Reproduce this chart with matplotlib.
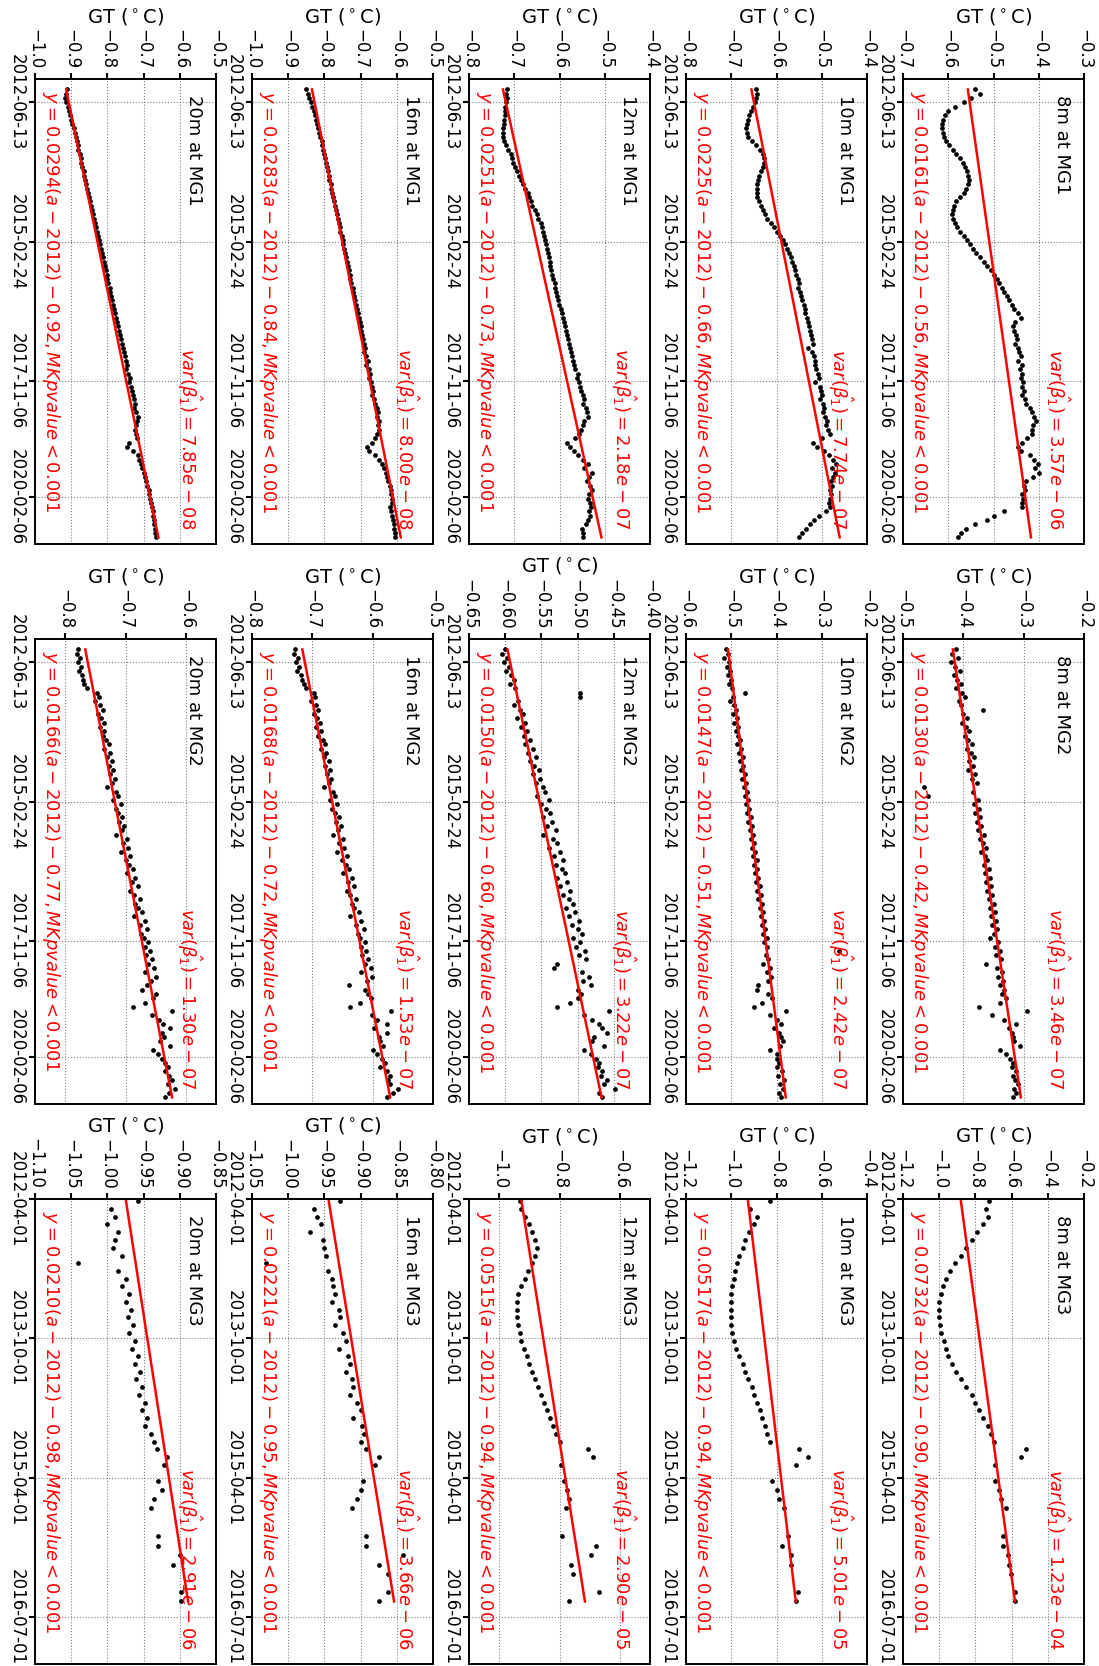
import numpy as np
import pandas as pd
import matplotlib
matplotlib.use('Agg')
import matplotlib.pyplot as plt
import matplotlib.dates as mdates
from matplotlib.ticker import MultipleLocator, NullLocator

# ---------------- data ----------------
depths = ['20m', '16m', '12m', '10m', '8m']
sites = ['MG1', 'MG2', 'MG3']

dates_mg12 = pd.date_range('2012-03-01', periods=105, freq='MS') + pd.Timedelta(days=14)
dates_mg3 = pd.date_range('2012-04-01', periods=50, freq='MS') + pd.Timedelta(days=9)

ticks_mg12 = ['2012-06-13', '2015-02-24', '2017-11-06', '2020-02-06']
ticks_mg3 = ['2012-04-01', '2013-10-01', '2015-04-01', '2016-07-01']

mg1_slope = [0.0294, 0.0283, 0.0251, 0.0225, 0.0161]
mg1_icpt = [-0.92, -0.84, -0.73, -0.66, -0.56]
mg1_var = ['7.85e-08', '8.00e-08', '2.18e-07', '7.74e-07', '3.57e-06']
mg2_slope = [0.0166, 0.0168, 0.0150, 0.0147, 0.0130]
mg2_icpt = [-0.77, -0.72, -0.60, -0.51, -0.42]
mg2_var = ['1.30e-07', '1.53e-07', '3.22e-07', '2.42e-07', '3.46e-07']
mg3_slope = [0.0210, 0.0221, 0.0515, 0.0517, 0.0732]
mg3_icpt = [-0.98, -0.95, -0.94, -0.94, -0.90]
mg3_var = ['2.91e-06', '3.66e-06', '2.90e-05', '5.01e-05', '1.23e-04']

mg1_xlim = [(-1.0, -0.5), (-1.0, -0.5), (-0.8, -0.4), (-0.8, -0.4), (-0.7, -0.3)]
mg2_xlim = [(-0.85, -0.55), (-0.8, -0.5), (-0.65, -0.40), (-0.6, -0.2), (-0.5, -0.2)]
mg3_xlim = [(-1.10, -0.85), (-1.05, -0.80), (-1.1, -0.5), (-1.2, -0.4), (-1.2, -0.2)]
mg1_step = [0.1, 0.1, 0.1, 0.1, 0.1]
mg2_step = [0.1, 0.1, 0.05, 0.1, 0.1]
mg3_step = [0.05, 0.05, 0.2, 0.2, 0.2]

mg1_20m = [-0.912, -0.915, -0.918, -0.914, -0.910, -0.906, -0.903, -0.900, -0.897, -0.893,
           -0.890, -0.888, -0.885, -0.882, -0.880, -0.877, -0.874, -0.872, -0.869, -0.866,
           -0.864, -0.861, -0.858, -0.856, -0.853, -0.850, -0.848, -0.845, -0.842, -0.840,
           -0.838, -0.835, -0.832, -0.829, -0.826, -0.824, -0.821, -0.818, -0.816, -0.813,
           -0.810, -0.808, -0.805, -0.802, -0.800, -0.797, -0.794, -0.792, -0.789, -0.786,
           -0.784, -0.781, -0.778, -0.776, -0.773, -0.770, -0.768, -0.765, -0.762, -0.760,
           -0.757, -0.754, -0.752, -0.749, -0.746, -0.748, -0.742, -0.738, -0.740, -0.735,
           -0.732, -0.730, -0.727, -0.724, -0.726, -0.720, -0.716, -0.718,
           -0.722, -0.724, -0.720, -0.718, -0.740, -0.746, -0.729, -0.715, -0.712, -0.708,
           -0.704, -0.700, -0.696, -0.693, -0.690, -0.686, -0.684, -0.681, -0.679, -0.677,
           -0.675, -0.673, -0.672, -0.670, -0.669, -0.668, -0.667]
mg1_16m = [-0.850, -0.846, -0.842, -0.838, -0.834, -0.830, -0.826, -0.824, -0.820, -0.818,
           -0.814, -0.812, -0.808, -0.806, -0.803, -0.800, -0.797, -0.795, -0.792, -0.790,
           -0.788, -0.786, -0.783, -0.781, -0.778, -0.776, -0.773, -0.771, -0.768, -0.766,
           -0.763, -0.761, -0.758, -0.756, -0.752, -0.750, -0.748, -0.745, -0.742, -0.740,
           -0.738, -0.735, -0.732, -0.730, -0.728, -0.726, -0.722, -0.720, -0.718, -0.716,
           -0.712, -0.710, -0.708, -0.705, -0.702, -0.700, -0.698, -0.695, -0.693, -0.690,
           -0.688, -0.690, -0.685, -0.680, -0.684, -0.678, -0.675, -0.676, -0.670, -0.668,
           -0.666, -0.668, -0.662, -0.660, -0.656, -0.652, -0.655, -0.650,
           -0.652, -0.650, -0.656, -0.660, -0.669, -0.683, -0.676, -0.660, -0.650, -0.640,
           -0.635, -0.630, -0.628, -0.624, -0.620, -0.616, -0.615, -0.614, -0.612, -0.619,
           -0.615, -0.612, -0.610, -0.608, -0.607, -0.606, -0.605]
mg1_12m = [-0.716, -0.718, -0.716, -0.719, -0.720, -0.721, -0.720, -0.722, -0.723, -0.724,
           -0.725, -0.724, -0.722, -0.718, -0.713, -0.708, -0.704,
           -0.702, -0.698, -0.694, -0.690, -0.684, -0.680, -0.676, -0.670, -0.668, -0.662,
           -0.660, -0.654, -0.650, -0.647,
           -0.641, -0.639, -0.636, -0.634, -0.632, -0.630, -0.628, -0.626, -0.624, -0.622,
           -0.620, -0.618, -0.616, -0.614, -0.611, -0.609, -0.607, -0.605, -0.603, -0.601,
           -0.597, -0.594, -0.592, -0.590, -0.588, -0.586, -0.583, -0.581, -0.579, -0.577,
           -0.575, -0.572, -0.570, -0.568, -0.566, -0.560, -0.562, -0.558, -0.555, -0.552,
           -0.548, -0.545, -0.548, -0.542, -0.540, -0.538, -0.545,
           -0.548, -0.552, -0.556, -0.565, -0.584, -0.576, -0.568, -0.560, -0.548, -0.536,
           -0.545, -0.528, -0.535, -0.540, -0.532, -0.528, -0.534, -0.537, -0.533, -0.530,
           -0.535, -0.532, -0.536, -0.542, -0.551, -0.549, -0.547]
mg1_10m = [-0.646, -0.644, -0.646, -0.648, -0.652, -0.657, -0.661, -0.664, -0.666, -0.667,
           -0.666, -0.662, -0.655, -0.645, -0.636, -0.630, -0.627,
           -0.628, -0.630, -0.634, -0.638, -0.641, -0.643, -0.644, -0.644, -0.642, -0.639,
           -0.635, -0.630, -0.625, -0.620,
           -0.612, -0.605, -0.598, -0.592, -0.586, -0.581, -0.577, -0.573, -0.569, -0.565,
           -0.562, -0.559, -0.556, -0.553, -0.550,
           -0.552, -0.548, -0.546, -0.543, -0.540, -0.538, -0.536, -0.533, -0.531, -0.528,
           -0.526, -0.524, -0.521, -0.519, -0.530,
           -0.522, -0.518, -0.516, -0.514, -0.512, -0.509, -0.507, -0.515, -0.504, -0.502,
           -0.500, -0.503, -0.497, -0.494, -0.498, -0.492, -0.488,
           -0.490, -0.486, -0.482, -0.500, -0.520, -0.510, -0.496, -0.485, -0.475, -0.468,
           -0.478, -0.470, -0.476, -0.480, -0.478, -0.482, -0.480, -0.482, -0.484, -0.482,
           -0.490, -0.505, -0.518, -0.527, -0.535, -0.543, -0.550]
mg1_8m = [-0.540, -0.530, -0.550, -0.565, -0.585, -0.600, -0.607, -0.612, -0.614, -0.613,
          -0.612, -0.610, -0.605, -0.598, -0.590, -0.582, -0.575, -0.568, -0.563, -0.558,
          -0.556, -0.555, -0.556, -0.560, -0.566, -0.575, -0.582, -0.588, -0.590, -0.591,
          -0.590, -0.586, -0.580, -0.573, -0.566, -0.558, -0.551, -0.545, -0.538, -0.530,
          -0.522, -0.514, -0.505, -0.498, -0.492, -0.487, -0.482, -0.476, -0.470, -0.465,
          -0.460, -0.455, -0.445, -0.440, -0.452, -0.458, -0.455, -0.450, -0.448, -0.452,
          -0.446, -0.443, -0.440, -0.445, -0.438, -0.442, -0.436, -0.440, -0.434, -0.438,
          -0.432, -0.436, -0.430, -0.428, -0.420, -0.415, -0.410, -0.405,
          -0.412, -0.416, -0.414, -0.425, -0.437, -0.445, -0.440, -0.420, -0.410, -0.402,
          -0.408, -0.400, -0.412, -0.428, -0.432, -0.430, -0.436, -0.434, -0.438, -0.436,
          -0.477, -0.500, -0.514, -0.540, -0.560, -0.572, -0.578]

mg2_20m = [-0.778, -0.781, -0.776, -0.779, -0.774, -0.777, -0.772, -0.770, -0.768, -0.764,
           -0.748, -0.744, -0.750, -0.742, -0.738, -0.745, -0.740, -0.736, -0.742, -0.735,
           -0.738, -0.732, -0.728, -0.735, -0.726, -0.730, -0.722, -0.728, -0.720, -0.725,
           -0.718, -0.722, -0.730, -0.715, -0.712, -0.720, -0.708, -0.716, -0.712, -0.705,
           -0.710, -0.702, -0.706, -0.715, -0.698, -0.704, -0.696, -0.708, -0.692, -0.700,
           -0.694, -0.688, -0.698, -0.684, -0.690, -0.680, -0.692, -0.686, -0.676, -0.684,
           -0.680, -0.672, -0.686, -0.668, -0.676, -0.664, -0.674, -0.670, -0.662, -0.668,
           -0.660, -0.666, -0.656, -0.662, -0.652, -0.668, -0.650, -0.658, -0.664, -0.672,
           -0.650, -0.655, -0.668, -0.688, -0.623, -0.656, -0.645, -0.638, -0.626, -0.640,
           -0.636, -0.643, -0.626, -0.654, -0.646, -0.640, -0.634, -0.630, -0.635, -0.628,
           -0.623, -0.630, -0.618, -0.628, -0.634]
mg2_16m = [-0.728, -0.730, -0.724, -0.727, -0.722, -0.725, -0.719, -0.717, -0.714, -0.711,
           -0.698, -0.695, -0.702, -0.694, -0.690, -0.697, -0.692, -0.688, -0.694, -0.686,
           -0.690, -0.683, -0.679, -0.686, -0.677, -0.681, -0.673, -0.679, -0.671, -0.676,
           -0.669, -0.673, -0.681, -0.666, -0.663, -0.671, -0.659, -0.667, -0.663, -0.656,
           -0.661, -0.653, -0.657, -0.666, -0.649, -0.655, -0.647, -0.659, -0.643, -0.651,
           -0.645, -0.639, -0.649, -0.635, -0.641, -0.631, -0.643, -0.637, -0.627, -0.635,
           -0.631, -0.623, -0.637, -0.619, -0.627, -0.615, -0.625, -0.621, -0.613, -0.619,
           -0.611, -0.617, -0.607, -0.613, -0.603, -0.619, -0.601, -0.609, -0.640, -0.612,
           -0.608, -0.602, -0.621, -0.638, -0.570, -0.601, -0.593, -0.576, -0.597, -0.576,
           -0.590, -0.588, -0.583, -0.600, -0.593, -0.585, -0.580, -0.588, -0.576, -0.571,
           -0.574, -0.572, -0.558, -0.566, -0.576]
mg2_12m = [-0.600, -0.604, -0.598, -0.602, -0.595, -0.599, -0.592, -0.588, -0.594, -0.586,
           -0.497, -0.496, -0.583, -0.588, -0.580, -0.576, -0.584, -0.572, -0.578, -0.570,
           -0.574, -0.566, -0.572, -0.562, -0.568, -0.558, -0.566, -0.560, -0.554, -0.562,
           -0.552, -0.558, -0.548, -0.545, -0.556, -0.540, -0.550, -0.544, -0.538, -0.548,
           -0.536, -0.542, -0.530, -0.548, -0.534, -0.528, -0.540, -0.524, -0.532, -0.520,
           -0.530, -0.522, -0.518, -0.528, -0.514, -0.524, -0.510, -0.520, -0.512, -0.506,
           -0.516, -0.504, -0.512, -0.498, -0.508, -0.500, -0.494, -0.506, -0.496, -0.502,
           -0.490, -0.498, -0.488, -0.528, -0.532, -0.494, -0.484, -0.492, -0.482, -0.500,
           -0.495, -0.500, -0.510, -0.529, -0.457, -0.491, -0.480, -0.471, -0.466, -0.460,
           -0.478, -0.480, -0.463, -0.491, -0.482, -0.474, -0.470, -0.472, -0.466, -0.468,
           -0.460, -0.464, -0.449, -0.470, -0.466]
mg2_10m = [-0.512, -0.508, -0.515, -0.505, -0.510, -0.502, -0.507, -0.500, -0.504, -0.498,
           -0.470, -0.496, -0.502, -0.494, -0.490, -0.497, -0.488, -0.493, -0.485, -0.490,
           -0.484, -0.480, -0.487, -0.478, -0.483, -0.475, -0.481, -0.473, -0.478, -0.470,
           -0.476, -0.468, -0.472, -0.465, -0.470, -0.462, -0.467, -0.460, -0.465, -0.457,
           -0.462, -0.455, -0.459, -0.452, -0.457, -0.450, -0.454, -0.447, -0.452, -0.444,
           -0.449, -0.443, -0.447, -0.440, -0.445, -0.437, -0.442, -0.435, -0.440, -0.432,
           -0.437, -0.430, -0.435, -0.428, -0.432, -0.425, -0.430, -0.422, -0.428, -0.420,
           -0.262, -0.424, -0.418, -0.430, -0.415, -0.420, -0.412, -0.418, -0.440, -0.444,
           -0.418, -0.410, -0.432, -0.450, -0.380, -0.414, -0.400, -0.391, -0.405, -0.395,
           -0.390, -0.386, -0.392, -0.414, -0.400, -0.398, -0.394, -0.400, -0.388, -0.396,
           -0.384, -0.392, -0.386, -0.394, -0.390]
mg2_8m = [-0.412, -0.418, -0.409, -0.420, -0.414, -0.406, -0.416, -0.410, -0.404, -0.412,
          -0.402, -0.398, -0.408, -0.404, -0.368, -0.400, -0.394, -0.402, -0.396, -0.390,
          -0.398, -0.392, -0.386, -0.394, -0.388, -0.382, -0.390, -0.384, -0.392, -0.380,
          -0.386, -0.378, -0.465, -0.384, -0.458, -0.376, -0.382, -0.374, -0.380, -0.372,
          -0.378, -0.370, -0.376, -0.366, -0.372, -0.368, -0.362, -0.370, -0.364, -0.360,
          -0.366, -0.358, -0.364, -0.356, -0.362, -0.354, -0.360, -0.352, -0.358, -0.350,
          -0.356, -0.348, -0.354, -0.346, -0.352, -0.344, -0.350, -0.356, -0.342, -0.348,
          -0.340, -0.346, -0.338, -0.362, -0.344, -0.336, -0.342, -0.334, -0.340, -0.332,
          -0.336, -0.330, -0.340, -0.374, -0.295, -0.353, -0.333, -0.312, -0.325, -0.320,
          -0.318, -0.316, -0.306, -0.340, -0.330, -0.322, -0.318, -0.320, -0.312, -0.318,
          -0.314, -0.310, -0.316, -0.312, -0.318]

nan = np.nan
mg3_20m = [-0.958, -0.995, -0.990, -1.000, -0.985, -0.990, -0.992, -0.980, -1.040, -0.985,
           -0.975, -0.980, -0.970, -0.975, -0.968, -0.972, -0.965, -0.970, -0.962, -0.966,
           -0.958, -0.962, -0.955, -0.960, -0.952, -0.956, -0.948, -0.952, -0.945, -0.948,
           -0.940, -0.936, -0.932, -0.918, -0.922, nan, -0.930, -0.925, -0.935, -0.940,
           nan, nan, -0.930, -0.930, -0.900, -0.910, nan, nan, -0.899, -0.899]
mg3_16m = [-0.929, -0.965, -0.960, -0.955, -0.970, -0.952, -0.950, -0.948, -1.030, -0.945,
           -0.940, -0.938, -0.935, -0.940, -0.930, -0.928, -0.935, -0.925, -0.920, -0.930,
           -0.918, -0.915, -0.920, -0.912, -0.910, -0.915, -0.905, -0.900, -0.910, -0.898,
           -0.895, -0.900, -0.893, -0.874, -0.880, nan, -0.896, -0.900, -0.905, -0.912,
           nan, nan, -0.893, -0.893, -0.842, -0.874, -0.862, nan, -0.862, -0.874]
mg3_12m = [-0.930, -0.927, -0.915, -0.900, -0.890, -0.880, -0.874, -0.880, -0.890, -0.905,
           -0.916, -0.928, -0.936, -0.940, -0.942, -0.940, -0.936, -0.932, -0.927, -0.918,
           -0.908, -0.900, -0.890, -0.880, -0.870, -0.860, -0.850, -0.840, -0.830, -0.820,
           -0.810, -0.800, -0.705, -0.690, -0.795, nan, -0.786, -0.775, -0.770, -0.779,
           nan, nan, -0.791, -0.680, -0.697, -0.762, -0.755, nan, -0.668, -0.767]
mg3_10m = [-0.829, -0.918, -0.885, -0.900, -0.920, -0.940, -0.950, -0.965, -0.975, -0.985,
           -0.990, -0.995, -1.000, -1.000, -1.000, -1.000, -1.000, -0.995, -0.990, -0.980,
           -0.965, -0.950, -0.940, -0.925, -0.910, -0.900, -0.885, -0.875, -0.865, -0.850,
           -0.840, -0.830, -0.700, -0.660, -0.715, nan, -0.820, -0.800, -0.790, -0.766,
           nan, nan, -0.750, -0.774, -0.735, -0.735, nan, nan, -0.704, -0.712]
mg3_8m = [-0.727, -0.740, -0.730, -0.760, -0.790, -0.820, -0.850, -0.880, -0.910, -0.940,
          -0.960, -0.980, -0.990, -1.000, -1.000, -1.000, -0.995, -0.990, -0.975, -0.965,
          -0.950, -0.930, -0.905, -0.880, -0.850, -0.820, -0.800, -0.780, -0.760, -0.730,
          -0.715, -0.700, -0.520, -0.550, -0.690, nan, -0.690, -0.670, -0.660, -0.631,
          nan, nan, -0.650, -0.650, -0.622, -0.612, -0.603, nan, -0.582, -0.582]

mg1_series = [mg1_20m, mg1_16m, mg1_12m, mg1_10m, mg1_8m]
mg2_series = [mg2_20m, mg2_16m, mg2_12m, mg2_10m, mg2_8m]
mg3_series = [mg3_20m, mg3_16m, mg3_12m, mg3_10m, mg3_8m]

# MG3 time axis: tick dates equally spaced (piecewise-linear time scale)
mg3_knots = ['2011-01-01', '2012-04-01', '2013-10-01', '2015-04-01', '2016-07-01', '2018-01-01']
kd = mdates.date2num(pd.to_datetime(mg3_knots).to_pydatetime())
kv = np.array([-(kd[1] - kd[0]) / (kd[2] - kd[1]), 0.0, 1.0, 2.0, 3.0,
               3.0 + (kd[5] - kd[4]) / (kd[4] - kd[3])])


def mg3_fwd(x):
    return np.interp(x, kd, kv)


def mg3_inv(v):
    return np.interp(v, kv, kd)


# ---------------- layout ----------------
W, H = 1099, 1666
fig = plt.figure(figsize=(W / 100, H / 100), dpi=100)
col_left = [35, 252, 469, 686, 903]
row_top = [79, 639, 1199]
aw, ah = 181, 465

site_data = [
    (mg1_series, mg1_slope, mg1_icpt, mg1_var, mg1_xlim, mg1_step, dates_mg12, ticks_mg12,
     ('2012-01-01', '2021-01-01'), False),
    (mg2_series, mg2_slope, mg2_icpt, mg2_var, mg2_xlim, mg2_step, dates_mg12, ticks_mg12,
     ('2012-01-01', '2021-01-01'), False),
    (mg3_series, mg3_slope, mg3_icpt, mg3_var, mg3_xlim, mg3_step, dates_mg3, ticks_mg3,
     ('2012-04-01', '2016-12-01'), True),
]


def dec_year(ts):
    ts = pd.Timestamp(ts)
    start = pd.Timestamp(year=ts.year, month=1, day=1)
    end = pd.Timestamp(year=ts.year + 1, month=1, day=1)
    return ts.year + (ts - start) / (end - start)


for r, (series, slopes, icpts, vars_, xlims, steps, dates, tks, ylim, warp) in enumerate(site_data):
    for c in range(5):
        left = col_left[c] / W
        bottom = 1 - (row_top[r] + ah) / H
        ax = fig.add_axes([left, bottom, aw / W, ah / H])
        vals = np.array(series[c], dtype=float)
        ok = ~np.isnan(vals)
        ax.plot(vals[ok], dates[ok], 'o', color='black', ms=2.4, ls='none', zorder=3)
        d0, d1 = dates[ok][0], dates[ok][-1]
        a0, a1 = dec_year(d0), dec_year(d1)
        y0 = slopes[c] * (a0 - 2012) + icpts[c]
        y1 = slopes[c] * (a1 - 2012) + icpts[c]
        ax.plot([y0, y1], [d0, d1], color='red', lw=1.8, zorder=4)

        if warp:
            ax.set_yscale('function', functions=(mg3_fwd, mg3_inv))
        ax.set_xlim(*xlims[c])
        ax.set_ylim(pd.Timestamp(ylim[1]), pd.Timestamp(ylim[0]))
        ax.xaxis.set_major_locator(MultipleLocator(steps[c]))
        ax.set_yticks([pd.Timestamp(t) for t in tks])
        ax.set_yticklabels(tks)
        ax.yaxis.set_minor_locator(NullLocator())
        ax.xaxis.tick_top()
        ax.xaxis.set_label_position('top')
        ax.set_xlabel(r'GT ($^\circ$C)', fontsize=14, labelpad=5)
        ax.tick_params(axis='x', labelsize=12, rotation=-90, width=1.5, length=4, pad=3)
        ax.tick_params(axis='y', labelsize=12, rotation=-90, width=1.5, length=4, pad=3)
        for lab in ax.get_yticklabels():
            lab.set_va('center')
        ax.grid(True, ls=':', color='gray', lw=0.8)
        for sp in ax.spines.values():
            sp.set_linewidth(1.4)

        name = f'{depths[c]} at {sites[r]}'
        ax.text(0.93, 0.965, name, transform=ax.transAxes, rotation=-90,
                ha='right', va='top', fontsize=13, color='black')
        sgn = '-' if icpts[c] < 0 else '+'
        eq = (r'$y = %.4f(a-2012) %s %.2f, MKpvalue < 0.001$'
              % (slopes[c], sgn, abs(icpts[c])))
        ax.text(0.03, 0.975, eq, transform=ax.transAxes, rotation=-90,
                ha='left', va='top', fontsize=13, color='red')
        mant, expo = vars_[c].split('e')
        vt = r'$var(\hat{\beta_1}) = %se-%s$' % (mant, expo.lstrip('-'))
        ax.text(0.93, 0.03, vt, transform=ax.transAxes, rotation=-90,
                ha='right', va='bottom', fontsize=13, color='red')

fig.savefig('out.png', dpi=100)
